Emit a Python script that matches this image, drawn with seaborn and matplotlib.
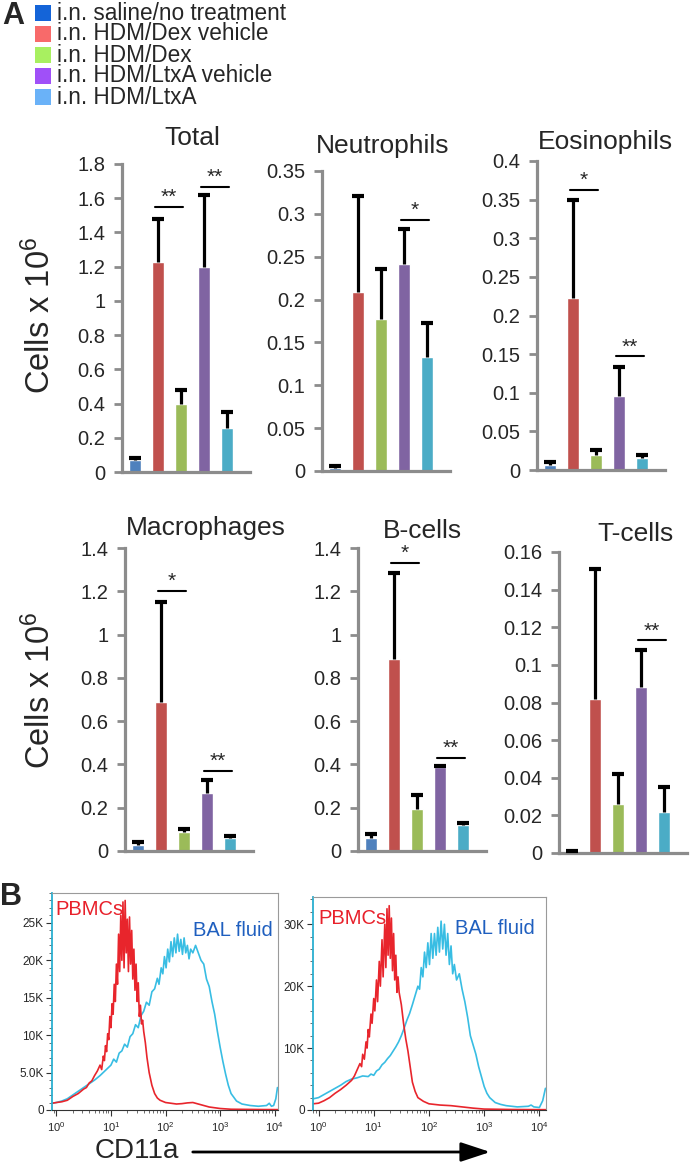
import numpy as np
import matplotlib
matplotlib.use('Agg')
import matplotlib.pyplot as plt
import seaborn as sns
from matplotlib.patches import Rectangle
from matplotlib.ticker import MultipleLocator, FuncFormatter, LogLocator, NullFormatter, FixedLocator

sns.set_style('white')
plt.rcParams['font.family'] = ['Liberation Sans', 'DejaVu Sans']
plt.rcParams['mathtext.fontset'] = 'custom'
plt.rcParams['mathtext.rm'] = 'Liberation Sans'
plt.rcParams['mathtext.it'] = 'Liberation Sans:italic'
plt.rcParams['mathtext.bf'] = 'Liberation Sans:bold'

# ---------------- data ----------------
groups = ['i.n. saline/no treatment', 'i.n. HDM/Dex vehicle', 'i.n. HDM/Dex',
          'i.n. HDM/LtxA vehicle', 'i.n. HDM/LtxA']
bar_colors = ['#4F81BD', '#C0504D', '#9BBB59', '#8064A2', '#4BACC6']
legend_colors = ['#1464D8', '#F86A6A', '#A8F060', '#A050F8', '#6AB2F8']

total_mean = [0.07, 1.23, 0.40, 1.20, 0.26]
total_err = [0.012, 0.25, 0.08, 0.42, 0.09]
neut_mean = [0.003, 0.209, 0.177, 0.241, 0.133]
neut_err = [0.003, 0.112, 0.059, 0.041, 0.040]
eos_mean = [0.006, 0.223, 0.020, 0.096, 0.016]
eos_err = [0.004, 0.127, 0.006, 0.037, 0.003]
macro_mean = [0.03, 0.69, 0.09, 0.27, 0.06]
macro_err = [0.01, 0.46, 0.01, 0.06, 0.01]
bcell_mean = [0.06, 0.885, 0.195, 0.39, 0.12]
bcell_err = [0.02, 0.40, 0.065, 0.005, 0.01]
tcell_mean = [0.0005, 0.082, 0.026, 0.088, 0.022]
tcell_err = [0.0005, 0.069, 0.016, 0.020, 0.013]

# significance: (left bar, right bar, height, stars)
total_sig = [(1, 2, 1.55, '**'), (3, 4, 1.665, '**')]
neut_sig = [(3, 4, 0.293, '*')]
eos_sig = [(1, 2, 0.363, '*'), (3, 4, 0.147, '**')]
macro_sig = [(1, 2, 1.20, '*'), (3, 4, 0.37, '**')]
bcell_sig = [(1, 2, 1.33, '*'), (3, 4, 0.43, '**')]
tcell_sig = [(3, 4, 0.113, '**')]

# flow histograms, CD11a in decades (log10) and counts in thousands
left_pbmc_log = [-0.08, 0.0, 0.1, 0.2, 0.3, 0.4, 0.5, 0.55, 0.6, 0.65, 0.7, 0.75, 0.8, 0.83, 0.86,
                 0.88, 0.9, 0.92, 0.94, 0.96, 0.98, 1.0, 1.02, 1.04, 1.06, 1.08, 1.1, 1.12, 1.14,
                 1.16, 1.18, 1.2, 1.22, 1.24, 1.26, 1.28, 1.3, 1.32, 1.34, 1.36, 1.38, 1.4, 1.42,
                 1.44, 1.46, 1.48, 1.5, 1.52, 1.54, 1.56, 1.58, 1.6, 1.63, 1.66, 1.7, 1.75, 1.8,
                 1.85, 1.9, 2.0, 2.1, 2.2, 2.3, 2.4, 2.5, 2.6, 2.7, 2.8, 2.9, 3.0, 3.2, 3.5, 3.8, 4.06]
left_pbmc_k = [0.9, 1.0, 1.1, 1.3, 1.8, 2.2, 2.8, 3.0, 3.6, 3.9, 4.6, 5.2, 6.0, 5.4, 7.2,
               6.6, 8.6, 7.8, 10.2, 9.4, 12.5, 11.0, 14.2, 12.8, 16.8, 14.5, 19.5, 16.8, 23.5,
               18.5, 26.0, 20.0, 27.8, 19.0, 28.0, 21.0, 25.5, 18.5, 25.8, 19.5, 24.0, 17.5, 21.5,
               16.0, 19.5, 14.5, 17.0, 12.5, 14.0, 11.5, 12.0, 10.5, 9.0, 7.0, 5.0, 3.3, 2.2,
               1.6, 1.3, 1.0, 0.9, 0.8, 0.85, 0.95, 1.0, 0.8, 0.6, 0.4, 0.3, 0.2, 0.1, 0.08, 0.06, 0.05]

left_bal_log = [-0.08, 0.0, 0.1, 0.2, 0.3, 0.4, 0.5, 0.6, 0.7, 0.8, 0.9, 1.0, 1.05, 1.1, 1.15,
                1.2, 1.25, 1.3, 1.35, 1.4, 1.45, 1.5, 1.55, 1.6, 1.65, 1.7, 1.75, 1.8, 1.85, 1.88,
                1.92, 1.95, 1.98, 2.01, 2.04, 2.07, 2.1, 2.13, 2.16, 2.19, 2.22, 2.25, 2.28, 2.31,
                2.34, 2.37, 2.4, 2.43, 2.46, 2.5, 2.55, 2.6, 2.65, 2.7, 2.75, 2.8, 2.85, 2.9, 2.95,
                3.0, 3.05, 3.1, 3.15, 3.2, 3.3, 3.4, 3.55, 3.7, 3.85, 3.9, 3.94, 3.98, 4.02, 4.05]
left_bal_k = [0.9, 1.0, 1.2, 1.5, 2.0, 2.5, 3.0, 3.5, 4.0, 4.6, 5.3, 6.0, 6.8, 6.4, 7.6,
              7.9, 8.8, 8.4, 9.8, 10.2, 11.4, 11.0, 12.6, 13.2, 14.4, 14.0, 15.8, 16.2, 17.6, 16.8,
              19.0, 18.2, 20.5, 19.0, 21.5, 19.8, 22.5, 20.5, 23.0, 21.0, 23.5, 21.2, 22.8, 20.8,
              23.0, 21.0, 22.0, 20.2, 21.5, 21.0, 22.0, 21.0, 20.0, 19.5, 17.5, 16.5, 14.5, 12.8, 10.5,
              8.4, 6.5, 4.8, 3.3, 2.2, 1.2, 0.8, 0.6, 0.5, 0.6, 0.9, 0.5, 0.6, 1.5, 3.0]

right_pbmc_log = [-0.1, 0.0, 0.1, 0.2, 0.3, 0.4, 0.5, 0.6, 0.65, 0.7, 0.75, 0.78, 0.8, 0.83, 0.86,
                  0.88, 0.9, 0.92, 0.95, 0.97, 1.0, 1.02, 1.05, 1.07, 1.1, 1.12, 1.15, 1.17, 1.2,
                  1.22, 1.24, 1.26, 1.28, 1.3, 1.32, 1.34, 1.36, 1.38, 1.4, 1.42, 1.44, 1.46, 1.5,
                  1.54, 1.58, 1.62, 1.66, 1.7, 1.75, 1.8, 1.9, 2.0, 2.2, 2.4, 2.6, 2.8, 3.0, 3.5, 4.12]
right_pbmc_k = [1.0, 1.1, 1.5, 2.0, 2.7, 3.3, 4.0, 4.8, 5.5, 6.5, 7.5, 7.0, 9.0, 8.2, 11.0,
                10.0, 13.0, 11.8, 15.5, 14.0, 18.0, 16.0, 21.0, 17.5, 24.0, 20.0, 27.5, 21.5, 30.0,
                23.0, 32.5, 25.0, 33.0, 24.5, 31.0, 22.5, 28.5, 21.0, 25.0, 19.0, 21.5, 19.0, 17.0,
                14.0, 11.5, 9.5, 7.0, 4.5, 3.0, 2.0, 1.4, 1.0, 0.8, 0.7, 0.5, 0.3, 0.15, 0.08, 0.05]

right_bal_log = [-0.1, 0.0, 0.1, 0.2, 0.3, 0.4, 0.5, 0.6, 0.7, 0.8, 0.9, 0.95, 1.0, 1.05, 1.1,
                 1.15, 1.2, 1.25, 1.3, 1.35, 1.4, 1.45, 1.5, 1.55, 1.6, 1.65, 1.7, 1.75, 1.8, 1.83,
                 1.86, 1.89, 1.92, 1.95, 1.98, 2.01, 2.04, 2.07, 2.1, 2.13, 2.16, 2.19, 2.22, 2.25,
                 2.28, 2.31, 2.34, 2.37, 2.4, 2.43, 2.46, 2.5, 2.55, 2.6, 2.65, 2.7, 2.75, 2.8, 2.85,
                 2.9, 2.95, 3.0, 3.05, 3.1, 3.2, 3.3, 3.4, 3.6, 3.8, 3.85, 3.9, 4.0, 4.06, 4.11]
right_bal_k = [1.8, 2.0, 2.5, 3.0, 3.5, 4.0, 4.6, 5.0, 5.2, 5.5, 5.4, 5.8, 5.6, 6.3, 6.6,
               7.3, 7.7, 8.3, 8.8, 9.5, 10.2, 11.0, 12.0, 13.2, 14.5, 15.6, 17.0, 18.5, 20.0, 19.5,
               23.0, 21.5, 25.5, 23.0, 27.0, 23.5, 28.5, 24.5, 28.5, 25.0, 29.5, 25.5, 30.5, 26.0,
               30.0, 25.0, 28.5, 23.5, 26.5, 22.0, 23.5, 21.0, 22.0, 19.5, 17.5, 15.0, 12.0, 10.5, 9.0,
               7.0, 5.4, 3.8, 2.7, 2.0, 1.2, 0.9, 0.7, 0.5, 0.6, 0.8, 0.5, 0.4, 1.5, 3.5]

# ---------------- figure ----------------
W, H = 690, 1163
fig = plt.figure(figsize=(W / 100, H / 100), dpi=100)


def px_axes(x0, y_top, w, y_bot):
    return fig.add_axes([x0 / W, 1 - y_bot / H, w / W, (y_bot - y_top) / H])


grey = '#8C8C8C'
bar_w_px = 5.55 * 23

panels = [
    # title, means, errs, ymax, ystep, sig, axis x, top y, bottom y, title x, title y
    ('Total', total_mean, total_err, 1.8, 0.2, total_sig, 122, 164, 472, 192, 138),
    ('Neutrophils', neut_mean, neut_err, 0.35, 0.05, neut_sig, 322, 171, 471, 383, 146),
    ('Eosinophils', eos_mean, eos_err, 0.4, 0.05, eos_sig, 537, 161, 470, 605, 142),
    ('Macrophages', macro_mean, macro_err, 1.4, 0.2, macro_sig, 125, 548, 851, 206, 528),
    ('B-cells', bcell_mean, bcell_err, 1.4, 0.2, bcell_sig, 358, 548, 851, 422, 531),
    ('T-cells', tcell_mean, tcell_err, 0.16, 0.02, tcell_sig, 559, 552, 853, 636, 534),
]

for title, means, errs, ymax, ystep, sig, ax_x, top_y, bot_y, tx, ty in panels:
    ax = px_axes(ax_x, top_y, bar_w_px, bot_y)
    sns.barplot(x=groups, y=means, hue=groups, palette=bar_colors, width=0.52,
                legend=False, saturation=1, ax=ax)
    # upper error bars only (hide the cap at the bar top)
    eb = ax.errorbar(range(len(means)), means, yerr=[np.zeros(len(errs)), errs], fmt='none',
                     ecolor='black', elinewidth=2.3, capsize=4.3, capthick=3, zorder=3)
    eb[1][0].set_visible(False)
    for i, j, y, stars in sig:
        ax.plot([i - 0.1, j + 0.1], [y, y], color='black', lw=1.5, clip_on=False)
        ax.annotate(stars, xy=((i + j) / 2, y), xytext=(0, 0), textcoords='offset points',
                    ha='center', va='bottom', fontsize=15, annotation_clip=False)
    ax.set_xlim(-0.55, 5.0)
    ax.set_ylim(0, ymax)
    ax.yaxis.set_major_locator(MultipleLocator(ystep))
    ax.yaxis.set_major_formatter(FuncFormatter(lambda v, p: '%g' % round(v, 4)))
    ax.set_xticks([])
    ax.set_xlabel('')
    ax.set_ylabel('')
    for s in ['top', 'right']:
        ax.spines[s].set_visible(False)
    for s in ['left', 'bottom']:
        ax.spines[s].set_color(grey)
        ax.spines[s].set_linewidth(2.3)
    ax.tick_params(axis='y', direction='out', length=6, width=2, color=grey,
                   labelsize=14.5, pad=6, left=True)
    ax.patch.set_visible(False)
    fig.text(tx / W, 1 - ty / H, title, ha='center', va='center', fontsize=19)

for yc in (315, 690):
    fig.text(40 / W, 1 - yc / H, 'Cells x 10$^{\\mathregular{6}}$', rotation=90,
             ha='center', va='center', fontsize=23.5)

# legend
fig.text(13 / W, 1 - 16 / H, 'A', ha='center', va='center', fontsize=22, fontweight='bold')
for k, (lab, col) in enumerate(zip(groups, legend_colors)):
    yc = 13 + 21 * k
    fig.add_artist(Rectangle((35 / W, 1 - (yc + 8) / H), 16 / W, 16 / H,
                             transform=fig.transFigure, color=col, lw=0))
    fig.text(57 / W, 1 - yc / H, lab, ha='left', va='center', fontsize=16.3)

# ---------------- panel B ----------------
fig.text(11 / W, 1 - 897 / H, 'B', ha='center', va='center', fontsize=22, fontweight='bold')

hist_panels = [
    (left_pbmc_log, left_pbmc_k, left_bal_log, left_bal_k, 52, 893, 226, 1110,
     (-0.08, 4.06), 29.0, [0, 5, 10, 15, 20, 25], ['0', '5.0K', '10K', '15K', '20K', '25K'], 1,
     (0.013, 0.926), (0.624, 0.825)),
    (right_pbmc_log, right_pbmc_k, right_bal_log, right_bal_k, 313, 897, 233, 1110,
     (-0.1, 4.12), 34.4, [0, 10, 20, 30], ['0', '10K', '20K', '30K'], 2,
     (0.021, 0.897), (0.61, 0.854)),
]

for (plog, pk, blog, bk, x0, yt, w, yb, xl, ytop, yt_vals, yt_labs, ymin_step,
     ppos, bpos) in hist_panels:
    ax = px_axes(x0, yt, w, yb)
    sns.lineplot(x=10 ** np.array(blog), y=bk, color='#38BDE3', lw=1.2, ax=ax,
                 sort=False, estimator=None)
    sns.lineplot(x=10 ** np.array(plog), y=pk, color='#E8252C', lw=1.2, ax=ax,
                 sort=False, estimator=None)
    ax.set_xscale('log')
    ax.set_xlim(10 ** xl[0], 10 ** xl[1])
    ax.set_ylim(0, ytop)
    ax.set_yticks(yt_vals)
    ax.set_yticklabels(yt_labs)
    ax.yaxis.set_minor_locator(MultipleLocator(ymin_step))
    ax.xaxis.set_major_locator(FixedLocator([1, 10, 100, 1000, 10000]))
    ax.xaxis.set_minor_locator(LogLocator(base=10, subs=range(2, 10), numticks=20))
    ax.xaxis.set_minor_formatter(NullFormatter())
    ax.set_xticklabels(['10$^{0}$', '10$^{1}$', '10$^{2}$', '10$^{3}$', '10$^{4}$'])
    ax.tick_params(axis='both', which='major', direction='out', length=4, width=0.8,
                   labelsize=8.5, pad=2, color='#333333', bottom=True, left=True)
    ax.tick_params(axis='both', which='minor', direction='out', length=2, width=0.6,
                   color='#555555', bottom=True, left=True)
    ax.tick_params(axis='x', pad=3, labelsize=8)
    ax.set_xlabel('')
    ax.set_ylabel('')
    for s in ['top', 'right', 'bottom']:
        ax.spines[s].set_color('#9A9A9A')
        ax.spines[s].set_linewidth(0.8)
    ax.spines['bottom'].set_color('#333333')
    ax.spines['left'].set_color('#2AAFD0')
    ax.spines['left'].set_linewidth(1.3)
    ax.text(ppos[0], ppos[1], 'PBMCs', transform=ax.transAxes, ha='left', va='center',
            fontsize=14.5, color='#E8202A')
    ax.text(bpos[0], bpos[1], 'BAL fluid', transform=ax.transAxes, ha='left', va='center',
            fontsize=14.5, color='#1F5FBF')

fig.text(95 / W, 1 - 1151 / H, 'CD11a', ha='left', va='center', fontsize=20)
fig.add_artist(matplotlib.patches.FancyArrowPatch(
    (190 / W, 1 - 1152 / H), (493 / W, 1 - 1152 / H), transform=fig.transFigure,
    arrowstyle='-|>,head_length=1.0,head_width=0.33', mutation_scale=18,
    lw=2, color='black'))

fig.savefig('out.png', dpi=100)
